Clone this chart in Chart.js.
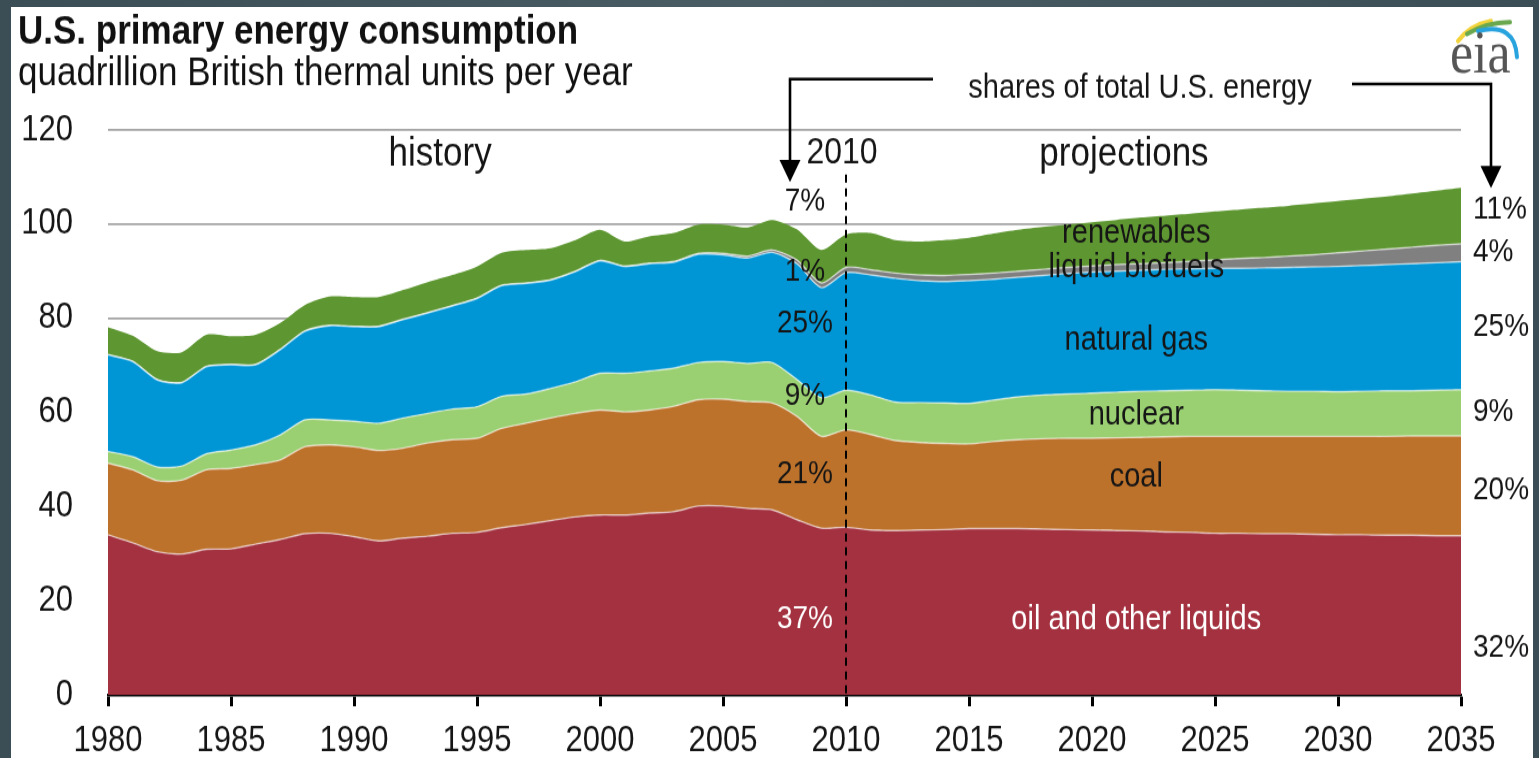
<!DOCTYPE html>
<html>
<head>
<meta charset="utf-8">
<title>U.S. primary energy consumption</title>
<script src="https://cdn.jsdelivr.net/npm/chart.js@4/dist/chart.umd.min.js"></script>
<style>
  html, body { margin: 0; padding: 0; }
  body { width: 1539px; height: 758px; overflow: hidden; position: relative;
         background: linear-gradient(90deg, #3b4d55, #4a5d65 50%, #3b4d55); }
  #panel { position: absolute; left: 11px; top: 7px; width: 1522px; height: 751px; background: #fff; }
  /* canvas is drawn 659px high and shown 758px high, like the stretched original */
  #chart { position: absolute; left: 0; top: 0; width: 1539px !important; height: 758px !important; }
</style>
</head>
<body>
<div id="panel"></div>
<canvas id="chart" width="1539" height="659" style="width:1539px;height:758px"></canvas>
<script>
const FONT = '"Liberation Sans", Arial, sans-serif';
const SY = 758 / 659;

const years = [1980, 1981, 1982, 1983, 1984, 1985, 1986, 1987, 1988, 1989,
  1990, 1991, 1992, 1993, 1994, 1995, 1996, 1997, 1998, 1999,
  2000, 2001, 2002, 2003, 2004, 2005, 2006, 2007, 2008, 2009,
  2010, 2011, 2012, 2013, 2014, 2015, 2016, 2017, 2018, 2019,
  2020, 2021, 2022, 2023, 2024, 2025, 2026, 2027, 2028, 2029,
  2030, 2031, 2032, 2033, 2034, 2035];

// quadrillion Btu per year, one layer each (stacked)
const oil = [34.0, 32.3, 30.4, 29.9, 30.9, 31.0, 32.0, 33.0, 34.2, 34.3,
  33.6, 32.7, 33.3, 33.7, 34.3, 34.5, 35.5, 36.2, 37.0, 37.8,
  38.2, 38.2, 38.6, 38.9, 40.1, 40.1, 39.6, 39.3, 37.2, 35.4,
  35.6, 35.0, 34.9, 35.0, 35.1, 35.3, 35.3, 35.3, 35.2, 35.1,
  35.0, 34.9, 34.8, 34.6, 34.5, 34.3, 34.3, 34.2, 34.2, 34.1,
  34.0, 34.0, 33.9, 33.9, 33.8, 33.8];
const coal = [15.2, 15.5, 15.1, 15.7, 16.9, 17.1, 16.9, 16.9, 18.5, 18.8,
  19.1, 19.2, 19.1, 19.8, 19.9, 20.0, 21.1, 21.5, 21.8, 22.0,
  22.3, 21.9, 21.9, 22.4, 22.6, 22.7, 22.7, 22.7, 22.0, 19.5,
  20.7, 20.3, 19.1, 18.6, 18.3, 18.0, 18.5, 18.9, 19.2, 19.4,
  19.5, 19.7, 19.9, 20.2, 20.4, 20.6, 20.6, 20.7, 20.7, 20.8,
  20.9, 20.9, 21.0, 21.1, 21.2, 21.2];
const nuclear = [2.5, 2.8, 2.9, 3.0, 3.4, 3.9, 4.2, 5.3, 5.7, 5.3,
  5.4, 5.8, 6.4, 6.3, 6.5, 6.7, 6.8, 6.2, 6.3, 6.7,
  7.8, 8.2, 8.3, 8.1, 7.9, 8.0, 8.1, 8.6, 7.8, 8.2,
  8.4, 8.4, 8.2, 8.5, 8.6, 8.6, 8.8, 9.1, 9.3, 9.4,
  9.6, 9.7, 9.8, 9.8, 9.8, 9.9, 9.8, 9.7, 9.6, 9.6,
  9.5, 9.6, 9.7, 9.6, 9.7, 9.8];
const naturalGas = [20.5, 20.2, 18.5, 17.7, 18.5, 18.1, 17.0, 18.1, 18.8, 20.0,
  20.1, 20.5, 20.9, 21.3, 21.9, 23.0, 23.5, 23.5, 23.0, 23.4,
  23.9, 22.7, 22.8, 22.5, 23.0, 22.7, 22.4, 23.4, 24.6, 23.4,
  25.0, 25.5, 26.3, 25.9, 25.8, 26.1, 25.7, 25.4, 25.4, 25.6,
  25.7, 25.7, 25.7, 25.8, 25.8, 25.8, 25.9, 26.1, 26.3, 26.4,
  26.6, 26.7, 26.8, 27.0, 27.1, 27.2];
const biofuels = [0.1, 0.1, 0.1, 0.1, 0.1, 0.1, 0.1, 0.1, 0.1, 0.1,
  0.1, 0.1, 0.1, 0.1, 0.1, 0.1, 0.1, 0.1, 0.1, 0.1,
  0.1, 0.1, 0.1, 0.2, 0.2, 0.3, 0.4, 0.5, 0.8, 1.0,
  1.1, 1.1, 1.1, 1.2, 1.3, 1.3, 1.3, 1.3, 1.3, 1.3,
  1.3, 1.4, 1.4, 1.4, 1.6, 1.8, 2.1, 2.2, 2.4, 2.6,
  2.9, 3.1, 3.3, 3.5, 3.7, 3.8];
const renewables = [5.8, 5.4, 6.0, 6.4, 6.7, 6.0, 6.3, 5.6, 5.5, 6.1,
  6.2, 6.2, 6.2, 6.5, 6.5, 6.7, 6.9, 7.0, 6.7, 6.6,
  6.5, 5.2, 5.7, 6.0, 6.1, 6.1, 6.1, 6.4, 6.5, 7.0,
  7.0, 7.8, 7.0, 7.1, 7.5, 7.8, 8.4, 8.8, 9.0, 9.1,
  9.3, 9.5, 9.8, 10.0, 10.1, 10.3, 10.4, 10.6, 10.7, 10.9,
  11.0, 11.1, 11.2, 11.4, 11.6, 11.9];

const sources = ['oil and other liquids', 'coal', 'nuclear', 'natural gas', 'liquid biofuels', 'renewables'];
const colors = ['#a3313f', '#bd722c', '#9ad071', '#0096d6', '#808080', '#5e9732'];
const series = [oil, coal, nuclear, naturalGas, biofuels, renewables];

// shares of total energy, same order as sources
const shares2010 = ['37%', '21%', '9%', '25%', '1%', '7%'];
const shares2035 = ['32%', '20%', '9%', '25%', '4%', '11%'];

const xTicks = [1980, 1985, 1990, 1995, 2000, 2005, 2010, 2015, 2020, 2025, 2030, 2035];
const yTicks = [0, 20, 40, 60, 80, 100, 120];

function txt(ctx, s, x, y, size, color, align, weight) {
  ctx.font = (weight || 'normal') + ' ' + size + 'px ' + FONT;
  ctx.fillStyle = color;
  ctx.textAlign = align || 'center';
  ctx.textBaseline = 'middle';
  ctx.fillText(s, x, y);
}

function arrow(ctx, x0, yTop, x1, tip) {
  ctx.beginPath();
  ctx.moveTo(x0, yTop);
  ctx.lineTo(x1, yTop);
  ctx.lineTo(x1, tip - 20 / SY);
  ctx.stroke();
  ctx.beginPath();
  ctx.moveTo(x1 - 10.5, tip - 22 / SY);
  ctx.lineTo(x1 + 10.5, tip - 22 / SY);
  ctx.lineTo(x1, tip);
  ctx.closePath();
  ctx.fill();
}

const notes = {
  id: 'notes',
  afterDraw(chart) {
    const ctx = chart.ctx;
    const x = chart.scales.x, y = chart.scales.y;
    ctx.save();

    // history / projections divider
    const x10 = x.getPixelForValue(2010);
    ctx.strokeStyle = '#000';
    ctx.lineWidth = 2;
    ctx.setLineDash([7, 5]);
    ctx.beginPath();
    ctx.moveTo(x10, y.getPixelForValue(110.5));
    ctx.lineTo(x10, y.getPixelForValue(0));
    ctx.stroke();
    ctx.setLineDash([]);

    // titles
    ctx.textAlign = 'left';
    ctx.textBaseline = 'alphabetic';
    ctx.fillStyle = '#111';
    ctx.font = 'bold 35px ' + FONT;
    ctx.fillText('U.S. primary energy consumption', 18, 44 / SY);
    ctx.font = '35px ' + FONT;
    ctx.fillText('quadrillion British thermal units per year', 18, 85 / SY);

    txt(ctx, 'history', x.getPixelForValue(1993.5), y.getPixelForValue(114.7), 35, '#151515');
    txt(ctx, '2010', x.getPixelForValue(2009.84), y.getPixelForValue(115.1), 32, '#151515');
    txt(ctx, 'projections', x.getPixelForValue(2021.3), y.getPixelForValue(114.7), 35, '#151515');
    txt(ctx, 'shares of total U.S. energy', 1140, 88 / SY, 29, '#151515');

    ctx.strokeStyle = '#000';
    ctx.fillStyle = '#000';
    ctx.lineWidth = 2.6;
    arrow(ctx, 933, 79 / SY, 790, 182 / SY);
    arrow(ctx, 1352, 84 / SY, 1491, 188 / SY);

    // share labels and layer names
    const leftY = [16.1, 46.9, 63.5, 78.8, 89.8, 104.9];
    const rightY = [10.0, 43.5, 60.0, 78.2, 94.1, 103.0];
    const nameY = [15.9, 46.3, 59.5, 75.2, 90.7, 97.9];
    sources.forEach((name, i) => {
      const c = i === 0 ? '#fff' : '#151515';
      txt(ctx, shares2010[i], x.getPixelForValue(2008.33), y.getPixelForValue(leftY[i]), 28, c);
      txt(ctx, shares2035[i], 1473, y.getPixelForValue(rightY[i]), 28, '#151515', 'left');
      txt(ctx, name, x.getPixelForValue(2021.8), y.getPixelForValue(nameY[i]), 29, c);
    });

    // eia logo
    ctx.lineCap = 'round';
    ctx.lineWidth = 4;
    ctx.strokeStyle = '#f2d33c';
    ctx.beginPath(); ctx.moveTo(1458, 41 / SY); ctx.quadraticCurveTo(1470, 25 / SY, 1491, 21 / SY); ctx.stroke();
    ctx.strokeStyle = '#6aa84f';
    ctx.beginPath(); ctx.moveTo(1467, 34 / SY); ctx.quadraticCurveTo(1486, 22 / SY, 1510, 22 / SY); ctx.stroke();
    ctx.strokeStyle = '#29a3dd';
    ctx.beginPath(); ctx.moveTo(1478, 31 / SY); ctx.quadraticCurveTo(1515, 22 / SY, 1517, 57 / SY); ctx.stroke();
    ctx.font = '52px "Liberation Serif", "DejaVu Serif", serif';
    ctx.fillStyle = '#555';
    ctx.textAlign = 'left';
    ctx.textBaseline = 'alphabetic';
    ctx.fillText('eia', 1450, 72 / SY);

    ctx.restore();
  }
};

new Chart(document.getElementById('chart'), {
  type: 'line',
  data: {
    datasets: series.map((vals, i) => ({
      label: sources[i],
      data: years.map((yr, j) => ({ x: yr, y: vals[j] })),
      backgroundColor: colors[i],
      borderColor: i === 5 ? colors[i] : 'rgba(255,255,255,0.6)',
      borderWidth: i === 5 ? 0 : 1.4,
      fill: i === 0 ? 'origin' : '-1',
      pointRadius: 0,
      tension: 0.25
    }))
  },
  options: {
    responsive: false,
    animation: false,
    devicePixelRatio: 1,
    layout: { padding: { top: 113, right: 78, left: 0, bottom: 0 } },
    plugins: {
      legend: { display: false },
      tooltip: { enabled: false }
    },
    scales: {
      x: {
        type: 'linear',
        min: 1980,
        max: 2035,
        afterBuildTicks: s => { s.ticks = xTicks.map(v => ({ value: v })); },
        afterFit: s => { s.height = 55; },
        grid: { drawOnChartArea: false, drawTicks: true, tickLength: 10, tickWidth: 3, tickColor: '#000' },
        border: { display: true, color: '#000', width: 2.6 },
        ticks: {
          padding: 12,
          color: '#151515',
          autoSkip: false,
          maxRotation: 0,
          font: { family: FONT, size: 31 },
          callback: v => String(v)
        }
      },
      y: {
        stacked: true,
        min: 0,
        max: 120,
        afterBuildTicks: s => { s.ticks = yTicks.map(v => ({ value: v })); },
        afterFit: s => { s.width = 108; },
        grid: { color: '#a3a3a3', lineWidth: 1.8, drawTicks: false },
        border: { display: false },
        ticks: {
          padding: 35,
          color: '#151515',
          font: { family: FONT, size: 31 },
          callback: v => String(v)
        }
      }
    }
  },
  plugins: [notes]
});
</script>
</body>
</html>
